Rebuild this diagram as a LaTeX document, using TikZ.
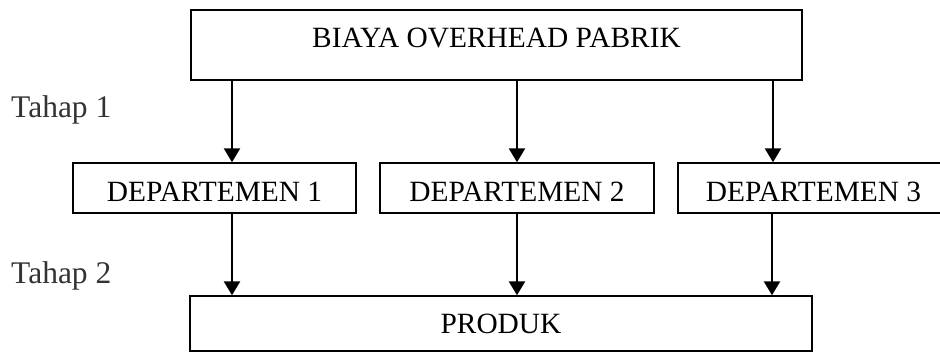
\documentclass[tikz,border=0pt]{standalone}
\usepackage{fontspec}
\setmainfont{Liberation Serif}
\usetikzlibrary{arrows.meta}
\begin{document}
\begin{tikzpicture}[x=1pt,y=-1pt,
  box/.style={draw=black,line width=1.4pt,inner sep=0pt,minimum height=#1},
  box/.default=50pt,
  lbl/.style={anchor=base,inner sep=0pt,font=\fontsize{29.4}{34}\selectfont},
  stage/.style={anchor=base west,inner sep=0pt,text=black!80,font=\fontsize{31.5}{36}\selectfont},
  flow/.style={line width=2.4pt,-{Triangle[width=16pt,length=14pt]}}]
\useasboundingbox (0,0) rectangle (940,352);
\clip (0,0) rectangle (940,352);

% boxes
\node[box=70pt,minimum width=611pt] (bop) at (496.5,45) {};
\node[box,minimum width=283pt] (d1) at (214.5,188) {};
\node[box,minimum width=274pt] (d2) at (517,188) {};
\node[box,minimum width=271pt] (d3) at (813.5,188) {};
\node[box=55pt,minimum width=622pt] (prod) at (501,323.5) {};

% box texts
\node[lbl] (bopt) at (496.5,48) {BIAYA OVERHEAD PABRIK};
\node[lbl] (d1t) at (214.5,201.5) {DEPARTEMEN 1};
\node[lbl] (d2t) at (517,201.5) {DEPARTEMEN 2};
\node[lbl] (d3t) at (813.5,201.5) {DEPARTEMEN 3};
\node[lbl] (prodt) at (501,334) {PRODUK};

% stage labels
\node[stage] (s1) at (11,118) {Tahap 1};
\node[stage] (s2) at (11,284) {Tahap 2};

% arrow columns
\coordinate (c1) at (232,0);
\coordinate (c2) at (517,0);
\coordinate (c3) at (773,0);
\coordinate (e3) at (772,0);

% stage 1 flows
\draw[flow] (bop.south -| c1) -- (d1.north -| c1);
\draw[flow] (bop.south -| c2) -- (d2.north -| c2);
\draw[flow] (bop.south -| c3) -- (d3.north -| c3);

% stage 2 flows
\draw[flow] (d1.south -| c1) -- (prod.north -| c1);
\draw[flow] (d2.south -| c2) -- (prod.north -| c2);
\draw[flow] (d3.south -| e3) -- (prod.north -| e3);
\end{tikzpicture}
\end{document}
